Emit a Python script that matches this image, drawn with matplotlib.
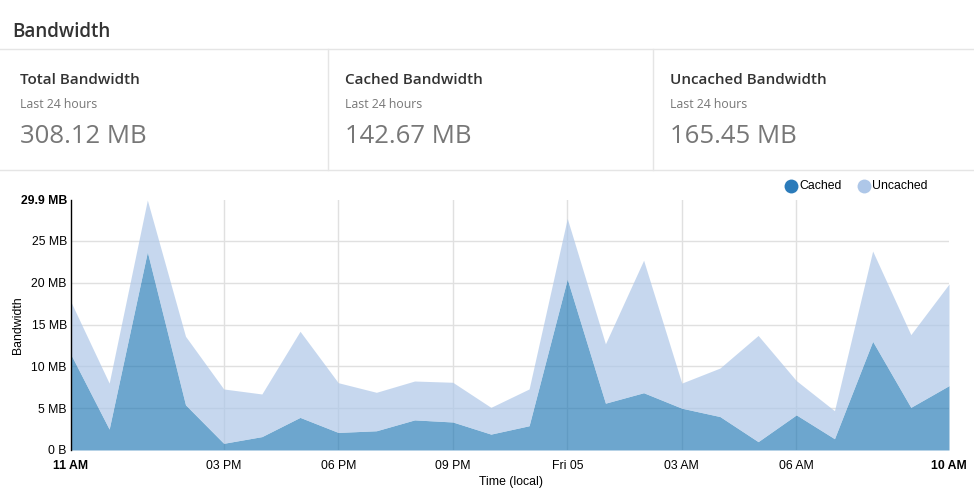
import matplotlib
matplotlib.use("Agg")
import matplotlib.pyplot as plt
from matplotlib.lines import Line2D
import numpy as np

# hourly samples, 11 AM -> 10 AM next day (MB)
hours = np.arange(24)
cached = [11.4, 2.5, 23.7, 5.4, 0.8, 1.6, 3.9, 2.1, 2.3, 3.6, 3.35, 1.9,
          2.9, 20.45, 5.6, 6.85, 5.0, 4.0, 1.0, 4.2, 1.35, 13.0, 5.1, 7.7]
uncached = [6.3, 5.5, 6.2, 8.2, 6.5, 5.1, 10.3, 5.95, 4.6, 4.65, 4.75, 3.2,
            4.4, 7.25, 7.1, 15.85, 3.0, 5.8, 12.7, 4.1, 3.35, 10.8, 8.7, 12.15]

xtick_pos = [0, 4, 7, 10, 13, 16, 19, 23]
xtick_labels = ["11 AM", "03 PM", "06 PM", "09 PM", "Fri 05", "03 AM", "06 AM", "10 AM"]
ytick_pos = [0, 5, 10, 15, 20, 25, 29.9]
ytick_labels = ["0 B", "5 MB", "10 MB", "15 MB", "20 MB", "25 MB", "29.9 MB"]

panels = [("Total Bandwidth", "308.12 MB"),
          ("Cached Bandwidth", "142.67 MB"),
          ("Uncached Bandwidth", "165.45 MB")]

W, H = 974, 497
fig = plt.figure(figsize=(W / 100, H / 100), dpi=100)

def fx(px):
    return px / W

def fy(py):
    return 1 - py / H

ui = "Open Sans"
chart_font = "Liberation Sans"
ink = "#333333"
grey = "#777777"
rule = "#e5e5e5"

# header and panels
fig.text(fx(12), fy(32), "Bandwidth", fontsize=13.5, color=ink, family=ui,
         weight="semibold", va="center", ha="left")
for y in (49, 170):
    fig.add_artist(Line2D([0, 1], [fy(y), fy(y)], color=rule, lw=1))
for x in (328, 653):
    fig.add_artist(Line2D([fx(x), fx(x)], [fy(49), fy(170)], color=rule, lw=1))

for i, (name, value) in enumerate(panels):
    x0 = 20 + i * 325
    fig.text(fx(x0), fy(80), name, fontsize=11, color=ink, family=ui,
             weight="semibold", va="center")
    fig.text(fx(x0), fy(104), "Last 24 hours", fontsize=8.8, color=grey,
             family=ui, va="center")
    fig.text(fx(x0), fy(137), value, fontsize=18.5, color=grey, family=ui,
             va="center")

# chart
ax = fig.add_axes([fx(71), fy(450), fx(949) - fx(71), fy(200) - fy(450)])
total = np.array(cached) + np.array(uncached)
ax.fill_between(hours, 0, cached, color="#1f77b4", alpha=0.65, lw=0, zorder=2)
ax.fill_between(hours, cached, total, color="#aec7e8", alpha=0.7, lw=0, zorder=2)

ax.set_xlim(0, 23)
ax.set_ylim(0, 29.9)
ax.set_xticks(xtick_pos)
ax.set_xticklabels(xtick_labels)
ax.set_yticks(ytick_pos)
ax.set_yticklabels(ytick_labels)
ax.tick_params(length=0, labelsize=8.8, labelcolor="#000000")
ax.tick_params(axis="x", pad=7)
ax.tick_params(axis="y", pad=3)
for lab in ax.get_xticklabels() + ax.get_yticklabels():
    lab.set_family(chart_font)
for lab in (ax.get_xticklabels()[0], ax.get_xticklabels()[-1], ax.get_yticklabels()[-1]):
    lab.set_fontweight("bold")

for y in ytick_pos[1:-1]:
    ax.axhline(y, color="#e0e0e0", lw=1, zorder=1)
for x in xtick_pos[1:-1]:
    ax.axvline(x, color="#e0e0e0", lw=1, zorder=1)

for side in ("top", "right", "bottom"):
    ax.spines[side].set_visible(False)
ax.spines["left"].set_color("#000000")
ax.spines["left"].set_linewidth(1)

fig.text(fx(18), fy(325), "Bandwidth", rotation=90, fontsize=8.8,
         family=chart_font, va="center", ha="center")
fig.text(fx(511), fy(482), "Time (local)", fontsize=8.8,
         family=chart_font, va="center", ha="center")

# legend
for cx, col, name in ((791, "#2b7bba", "Cached"), (864, "#aec7e8", "Uncached")):
    fig.add_artist(Line2D([fx(cx)], [fy(186)], marker="o", ms=10, color=col,
                          markeredgewidth=0))
    fig.text(fx(cx + 8), fy(186), name, fontsize=8.8, family=chart_font,
             va="center", ha="left", color="#000000")

fig.savefig("out.png", dpi=100)
